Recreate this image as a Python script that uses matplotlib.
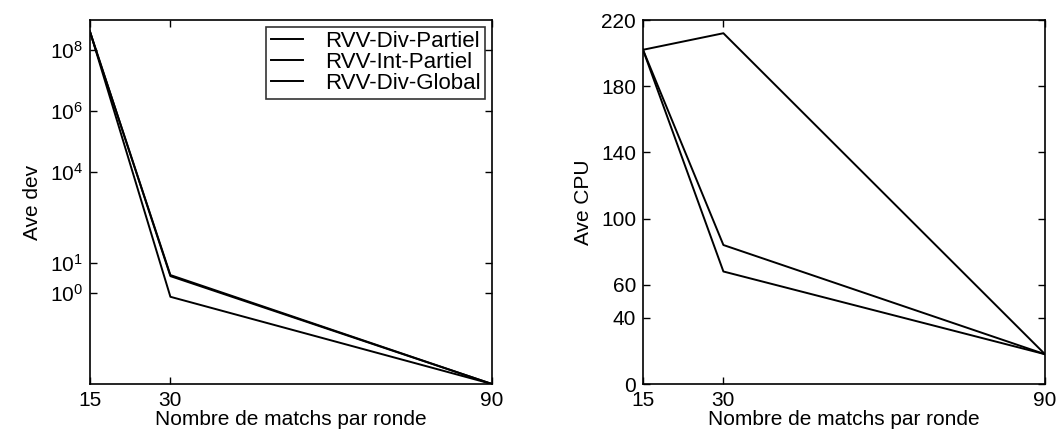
import matplotlib
matplotlib.use("Agg")
import matplotlib.pyplot as plt
from matplotlib.ticker import FixedLocator, FixedFormatter

plt.rcParams['font.family'] = ['Liberation Sans', 'DejaVu Sans']
plt.rcParams['mathtext.default'] = 'regular'

x_matches = [15, 30, 90]
series_names = ["RVV-Div-Partiel", "RVV-Int-Partiel", "RVV-Div-Global"]

# Left panel: Ave dev (log scale)
dev_div_partiel = [4.2e8, 0.75, 1.0e-3]
dev_int_partiel = [4.0e8, 3.9, 1.0e-3]
dev_div_global = [4.1e8, 3.6, 1.0e-3]

# Right panel: Ave CPU
cpu_div_partiel = [202, 68, 18]
cpu_int_partiel = [202, 84, 18]
cpu_div_global = [202, 212, 18]

dev_ticks = [1e0, 1e1, 1e4, 1e6, 1e8]
dev_ticklabels = ["$10^0$", "$10^1$", "$10^4$", "$10^6$", "$10^8$"]
cpu_ticks = [0, 40, 60, 100, 140, 180, 220]
x_ticks = [15, 30, 90]

fig = plt.figure(figsize=(10.59, 4.34), dpi=100)
W, H = 1059, 434
ax1 = fig.add_axes([90 / W, 1 - 384 / H, (492 - 90) / W, (384 - 20) / H])
ax2 = fig.add_axes([643 / W, 1 - 384 / H, (1045 - 643) / W, (384 - 20) / H])

fs = 15
for ax in (ax1, ax2):
    for s in ax.spines.values():
        s.set_linewidth(1.2)
    ax.tick_params(direction='in', length=5, width=1, top=True, right=True,
                   labelsize=fs, pad=5)
    ax.set_xlim(15, 90)
    ax.set_xticks(x_ticks)
    ax.set_xticklabels([str(v) for v in x_ticks])
    ax.set_xlabel("Nombre de matchs par ronde", fontsize=fs, labelpad=0)

ax1.plot(x_matches, dev_div_partiel, color='black', lw=1.4, label=series_names[0])
ax1.plot(x_matches, dev_int_partiel, color='black', lw=1.4, label=series_names[1])
ax1.plot(x_matches, dev_div_global, color='black', lw=1.4, label=series_names[2])
ax1.set_yscale('log')
ax1.set_ylim(1e-3, 1e9)
ax1.yaxis.set_major_locator(FixedLocator(dev_ticks))
ax1.yaxis.set_major_formatter(FixedFormatter(dev_ticklabels))
ax1.yaxis.set_minor_locator(FixedLocator([]))
ax1.set_ylabel("Ave dev", fontsize=fs, labelpad=6)
leg = ax1.legend(loc='upper right', prop={'size': 16}, frameon=True, fancybox=False,
                 edgecolor='black', borderpad=0.2, handlelength=1.45,
                 handletextpad=1.0, labelspacing=0.0, borderaxespad=0.3)
leg.get_frame().set_linewidth(1.2)

ax2.plot(x_matches, cpu_div_partiel, color='black', lw=1.4)
ax2.plot(x_matches, cpu_int_partiel, color='black', lw=1.4)
ax2.plot(x_matches, cpu_div_global, color='black', lw=1.4)
ax2.set_ylim(0, 220)
ax2.set_yticks(cpu_ticks)
ax2.set_yticklabels([str(v) for v in cpu_ticks])
ax2.set_ylabel("Ave CPU", fontsize=fs, labelpad=6)

fig.savefig("out.png", dpi=100)
